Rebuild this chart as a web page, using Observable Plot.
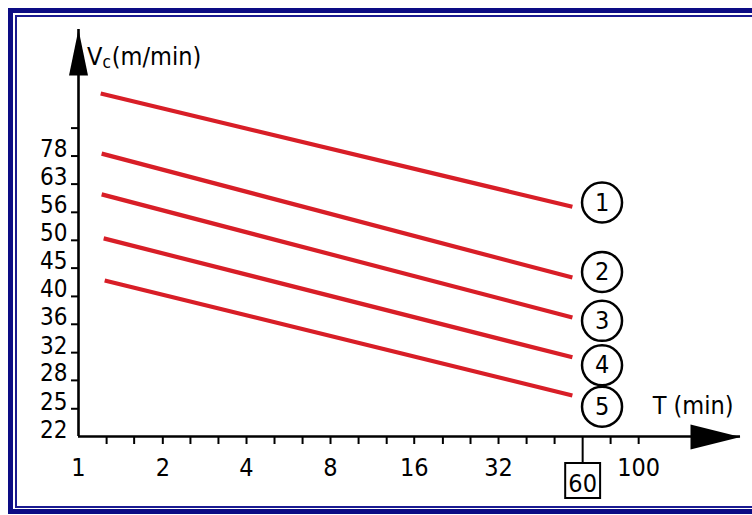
<!DOCTYPE html>
<html>
<head>
<meta charset="utf-8">
<script src="https://cdn.jsdelivr.net/npm/d3@7"></script>
<script src="https://cdn.jsdelivr.net/npm/@observablehq/plot@0.6"></script>
<style>
  html, body { margin: 0; padding: 0; background: #ffffff; }
  #wrap { position: relative; width: 752px; height: 515px; overflow: hidden; background: #ffffff; }
  #wrap svg { position: absolute; left: 0; top: 0; }
  .b1 { position: absolute; left: 8px; top: 8px; width: 800px; height: 496px;
        border-left: 5px solid #0c0c84; border-top: 5px solid #0c0c84; border-bottom: 5px solid #0c0c84;
        pointer-events: none; }
  .b2 { position: absolute; left: 15px; top: 15px; width: 800px; height: 489px;
        border-left: 2px solid #1a1a90; border-top: 2px solid #1a1a90; border-bottom: 2px solid #1a1a90;
        pointer-events: none; }
</style>
</head>
<body>
<div id="wrap"></div>
<script>
// ---- data ----
const seriesIds = ["1", "2", "3", "4", "5"];
const tStart = [1.2, 1.21, 1.21, 1.23, 1.24];   // T (min) at left end of each line
const tEnd   = [58, 58, 58, 58, 58];             // T (min) at right end
const vStart = [91.5, 71.5, 60.5, 50.5, 42.5];   // Vc (m/min) at left end
const vEnd   = [57.5, 43, 36.5, 31, 26.5];       // Vc (m/min) at right end

const labelT = 74;                               // circled label position (T)
const labelV = [58.5, 44, 36, 30, 25.3];         // circled label positions (Vc)

// tick positions as drawn (evenly spaced on the log axes)
const xMinorTicks = [1.26, 1.58, 2, 2.51, 3.16, 3.98, 5.01, 6.31, 7.94, 10, 12.6, 15.8, 20, 25.1, 31.6, 39.8, 50.1, 79.4, 100];
const xLabelValues = [1, 2, 3.98, 7.94, 15.8, 31.6, 100];
const xLabelTexts  = ["1", "2", "4", "8", "16", "32", "100"];
const boxedValue = 63.1;
const boxedText = "60";

const yTicks = [25.1, 28.2, 31.6, 35.5, 39.8, 44.7, 50.1, 56.2, 63.1, 70.8, 79.4];
const yLabelValues = [22.4, 25.1, 28.2, 31.6, 35.5, 39.8, 44.7, 50.1, 56.2, 63.1, 70.8];
const yLabelTexts  = ["22", "25", "28", "32", "36", "40", "45", "50", "56", "63", "78"];

const xTitle = "T (min)";
const yTitleMain = "V", yTitleSub = "c", yTitleUnit = "(m/min)";

// ---- styles ----
const FONT = "'DejaVu Sans Condensed', 'DejaVu Sans', sans-serif";
const RED = "#d81e27";
const ML = 78, MR = 12, MT = 29, MB = 79;

const lines = seriesIds.map((id, i) => ({id, t1: tStart[i], v1: vStart[i], t2: tEnd[i], v2: vEnd[i]}));

const arrowUp = {draw(ctx) { ctx.moveTo(0, 0); ctx.lineTo(9.5, 46); ctx.lineTo(-9.5, 46); ctx.closePath(); }};
const arrowRight = {draw(ctx) { ctx.moveTo(0, 0.5); ctx.lineTo(-50, -12); ctx.lineTo(-50, 13); ctx.closePath(); }};

const chart = Plot.plot({
  width: 752,
  height: 515,
  marginLeft: ML, marginRight: MR, marginTop: MT, marginBottom: MB,
  style: {fontFamily: FONT, fontStretch: "condensed", background: "white", color: "black", overflow: "visible"},
  x: {type: "log", domain: [1, 231]},
  y: {type: "log", domain: [22.4, 119]},
  marks: [
    // axis lines
    Plot.ruleY([22.4], {stroke: "black", strokeWidth: 2.6}),
    Plot.ruleX([1], {stroke: "black", strokeWidth: 2.6}),
    // ticks
    Plot.axisX(xMinorTicks, {tickSize: 8, strokeWidth: 2, fill: "none", label: null}),
    Plot.axisX([boxedValue], {tickSize: 27, strokeWidth: 2, fill: "none", label: null}),
    Plot.axisY(yTicks, {tickSize: 7, strokeWidth: 2, fill: "none", label: null}),
    // arrowheads
    Plot.dot([0], {frameAnchor: "top-left", symbol: arrowUp, fill: "black", stroke: "none"}),
    Plot.dot([0], {frameAnchor: "bottom-right", symbol: arrowRight, fill: "black", stroke: "none"}),
    // tick labels
    Plot.text(xLabelValues, {x: d => d, frameAnchor: "bottom", dy: 39, lineAnchor: "bottom",
      text: (d, i) => xLabelTexts[i], fontSize: 25, fill: "black"}),
    Plot.text([boxedValue], {x: d => d, frameAnchor: "bottom", dy: 55, lineAnchor: "bottom",
      text: () => boxedText, fontSize: 25, fill: "black"}),
    Plot.dot([boxedValue], {x: d => d, frameAnchor: "bottom", dy: 44, symbol: "square", r: 19.7,
      stroke: "black", strokeWidth: 2, fill: "none"}),
    Plot.text(yLabelValues, {y: d => d, frameAnchor: "left", dx: -11, dy: 1, textAnchor: "end", lineAnchor: "bottom",
      text: (d, i) => yLabelTexts[i], fontSize: 24, fill: "black"}),
    // lines
    Plot.link(lines, {x1: "t1", y1: "v1", x2: "t2", y2: "v2", stroke: RED, strokeWidth: 4.2}),
    // circled labels
    Plot.dot(seriesIds, {x: () => labelT, y: (d, i) => labelV[i], r: 20, stroke: "black", strokeWidth: 2.5, fill: "white"}),
    Plot.text(seriesIds, {x: () => labelT, y: (d, i) => labelV[i], text: d => d, fontSize: 25, lineAnchor: "middle", fill: "black"}),
    // x title
    Plot.text([xTitle], {frameAnchor: "bottom-right", dx: -7, dy: -23, textAnchor: "end", lineAnchor: "bottom",
      text: d => d, fontSize: 25, fill: "black"})
  ]
});

// y title with subscript
const svg = d3.select(chart);
const yt = svg.append("text")
  .attr("x", ML + 9).attr("y", MT + 36)
  .attr("text-anchor", "start")
  .attr("font-size", 25).attr("fill", "black").attr("font-family", FONT);
yt.append("tspan").text(yTitleMain);
yt.append("tspan").attr("font-size", 17).attr("dy", 3).text(yTitleSub);
yt.append("tspan").attr("dy", -3).attr("dx", 1).text(yTitleUnit);

const wrap = document.getElementById("wrap");
wrap.appendChild(chart);
const b1 = document.createElement("div"); b1.className = "b1"; wrap.appendChild(b1);
const b2 = document.createElement("div"); b2.className = "b2"; wrap.appendChild(b2);
</script>
</body>
</html>
